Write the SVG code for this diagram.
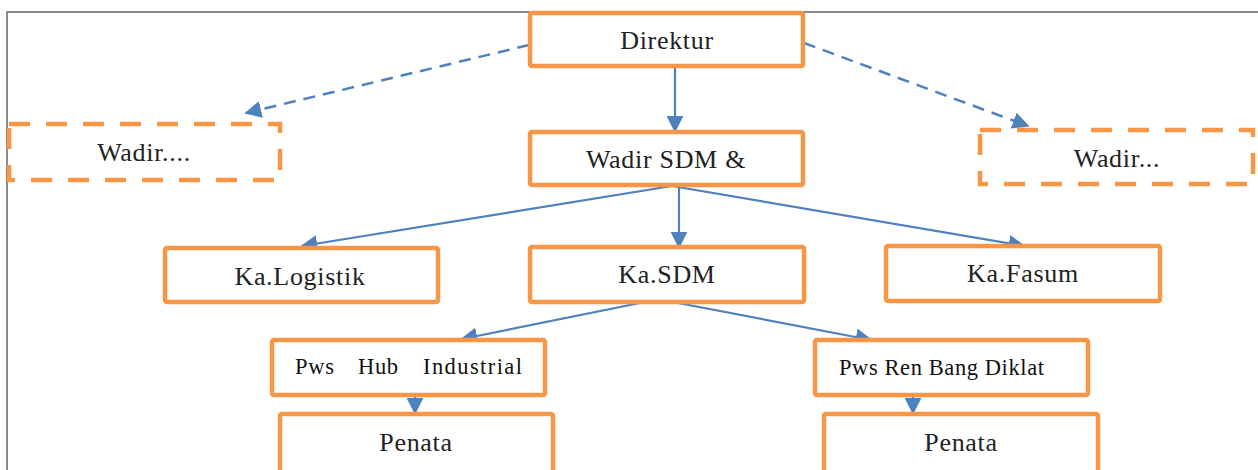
<svg xmlns="http://www.w3.org/2000/svg" width="1258" height="470" viewBox="0 0 1258 470">
  <style>
    .box { fill: #ffffff; stroke: #F79646; stroke-width: 4.5; stroke-linejoin: round; }
    .dash { fill: #ffffff; stroke: #F79646; stroke-width: 4.5; stroke-dasharray: 21 16; }
    .lbl { font-family: "Liberation Serif", "Times New Roman", serif; font-size: 26px; fill: #222222; text-anchor: middle; letter-spacing: 0.7px; }
    .sm { font-family: "Liberation Serif", "Times New Roman", serif; font-size: 22.5px; fill: #111111; }
    .link { stroke: #4F81BD; stroke-width: 2.2; fill: none; }
    .dlink { stroke: #4F81BD; stroke-width: 2.5; fill: none; stroke-dasharray: 12 8; }
  </style>
  <defs>
    <marker id="arrowL" viewBox="0 0 10 10" refX="9" refY="5" markerWidth="17" markerHeight="17" markerUnits="userSpaceOnUse" orient="auto">
      <path d="M0,0 L10,5 L0,10 z" fill="#4F81BD"/>
    </marker>
  </defs>

  <!-- page frame -->
  <path d="M7,470 L7,12 L1258,12" fill="none" stroke="#666666" stroke-width="1.5"/>

  <!-- connectors -->
  <g id="connectors">
    <line class="link" x1="675" y1="67" x2="675" y2="131" marker-end="url(#arrowL)"/>
    <line class="dlink" x1="529" y1="45" x2="246" y2="113" marker-end="url(#arrowL)"/>
    <line class="dlink" x1="804" y1="43" x2="1028" y2="126" marker-end="url(#arrowL)"/>
    <line class="link" x1="672" y1="186" x2="302" y2="246" marker-end="url(#arrowL)"/>
    <line class="link" x1="679" y1="186" x2="679" y2="247" marker-end="url(#arrowL)"/>
    <line class="link" x1="672" y1="186" x2="1024" y2="246" marker-end="url(#arrowL)"/>
    <line class="link" x1="640" y1="303" x2="462" y2="339" marker-end="url(#arrowL)"/>
    <line class="link" x1="678" y1="303" x2="871" y2="340" marker-end="url(#arrowL)"/>
    <line class="link" x1="415" y1="395" x2="415" y2="413" marker-end="url(#arrowL)"/>
    <line class="link" x1="913" y1="395" x2="913" y2="413" marker-end="url(#arrowL)"/>
  </g>

  <g id="direktur">
    <rect class="box" x="530" y="13" width="273" height="53" rx="2"/>
    <text class="lbl" x="667" y="49">Direktur</text>
  </g>

  <g id="wadir-left">
    <rect class="dash" x="9" y="124" width="271" height="56"/>
    <text class="lbl" x="144" y="161">Wadir....</text>
  </g>

  <g id="wadir-sdm">
    <rect class="box" x="530" y="132" width="273" height="53" rx="2"/>
    <text class="lbl" x="666" y="168">Wadir SDM &amp;</text>
  </g>

  <g id="wadir-right">
    <rect class="dash" x="980" y="130" width="273" height="54"/>
    <text class="lbl" x="1117" y="167">Wadir...</text>
  </g>

  <g id="ka-logistik">
    <rect class="box" x="165" y="248" width="273" height="54" rx="2"/>
    <text class="lbl" x="300" y="285">Ka.Logistik</text>
  </g>

  <g id="ka-sdm">
    <rect class="box" x="530" y="247" width="274" height="55" rx="2"/>
    <text class="lbl" x="667" y="283">Ka.SDM</text>
  </g>

  <g id="ka-fasum">
    <rect class="box" x="886" y="246" width="274" height="55" rx="2"/>
    <text class="lbl" x="1023" y="282">Ka.Fasum</text>
  </g>

  <g id="pws-hub">
    <rect class="box" x="272" y="340" width="273" height="55" rx="2"/>
    <text class="sm" y="374"><tspan x="295" textLength="39">Pws</tspan><tspan x="358" textLength="40">Hub</tspan><tspan x="423" textLength="99">Industrial</tspan></text>
  </g>

  <g id="pws-renbang">
    <rect class="box" x="815" y="340" width="273" height="55" rx="2"/>
    <text class="sm" x="839" y="375" textLength="205">Pws Ren Bang Diklat</text>
  </g>

  <g id="penata-left">
    <rect class="box" x="280" y="414" width="273" height="62" rx="2"/>
    <text class="lbl" x="416" y="451">Penata</text>
  </g>

  <g id="penata-right">
    <rect class="box" x="824" y="414" width="274" height="62" rx="2"/>
    <text class="lbl" x="961" y="451">Penata</text>
  </g>
</svg>
